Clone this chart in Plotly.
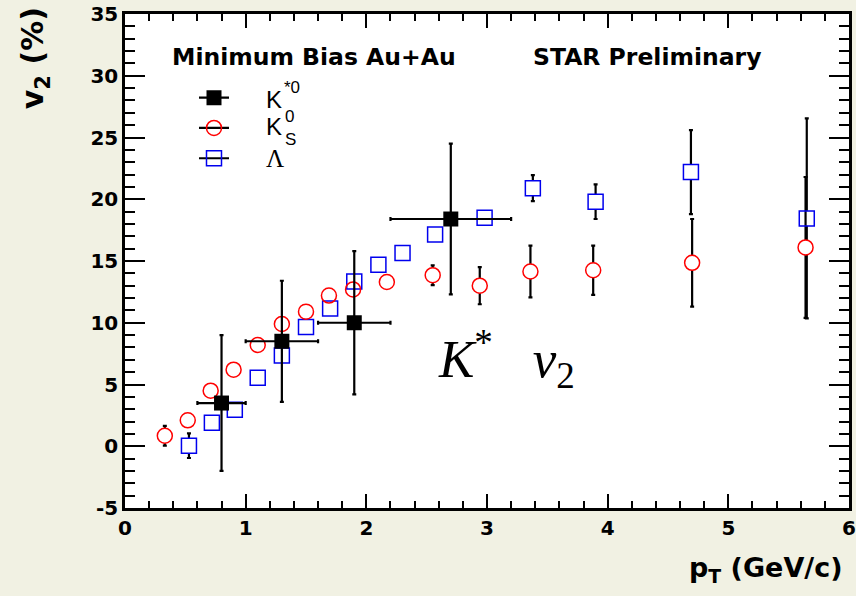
import plotly.graph_objects as go

# K*0 (filled squares), with pT bin half-widths
kstar_pt = [0.8, 1.3, 1.9, 2.7]
kstar_v2 = [3.5, 8.5, 10.0, 18.4]
kstar_pt_err = [0.2, 0.3, 0.3, 0.5]
kstar_v2_err = [5.5, 4.9, 5.8, 6.1]

# K0S (open circles)
k0s_pt = [0.33, 0.52, 0.71, 0.90, 1.10, 1.30, 1.50, 1.69, 1.89, 2.17, 2.55, 2.94, 3.36, 3.88, 4.70, 5.64]
k0s_v2 = [0.85, 2.1, 4.5, 6.2, 8.2, 9.9, 10.9, 12.2, 12.7, 13.3, 13.85, 13.0, 14.15, 14.25, 14.85, 16.1]
k0s_v2_err = [0.8, 0.3, 0.3, 0.3, 0.3, 0.3, 0.3, 0.3, 0.3, 0.4, 0.8, 1.5, 2.1, 2.0, 3.55, 5.7]

# Lambda (open squares)
lam_pt = [0.53, 0.72, 0.91, 1.10, 1.30, 1.50, 1.70, 1.90, 2.10, 2.30, 2.57, 2.98, 3.38, 3.90, 4.69, 5.65]
lam_v2 = [0.05, 1.9, 2.95, 5.55, 7.35, 9.65, 11.15, 13.35, 14.7, 15.65, 17.15, 18.5, 20.9, 19.8, 22.2, 18.45]
lam_v2_err = [1.0, 0.3, 0.3, 0.3, 0.3, 0.3, 0.3, 0.3, 0.3, 0.3, 0.4, 0.4, 1.05, 1.4, 3.4, 8.1]

y_ticks = [-5, 0, 5, 10, 15, 20, 25, 30, 35]
y_tick_text = ["-5", "0", "5", "10", "15", "20", "25", "30", "35"]
x_ticks = [0, 1, 2, 3, 4, 5, 6]

BG = "#f1f1e3"
RED = "#ff0000"
BLUE = "#0000ee"
BOLD = "DejaVu Sans"
LW = 2.2

fig = go.Figure()

# white-filled bodies carry the error bars, so bars stop at the marker edge
fig.add_trace(go.Scatter(
    x=lam_pt, y=lam_v2, mode="markers", showlegend=False, hoverinfo="skip",
    marker=dict(symbol="square", size=15, color="white", line=dict(width=0)),
    error_y=dict(type="data", array=lam_v2_err, color="black", thickness=LW, width=2)))
fig.add_trace(go.Scatter(
    x=k0s_pt, y=k0s_v2, mode="markers", showlegend=False, hoverinfo="skip",
    marker=dict(symbol="circle", size=15, color="white", line=dict(width=0)),
    error_y=dict(type="data", array=k0s_v2_err, color="black", thickness=LW, width=2)))

# outlines on top
fig.add_trace(go.Scatter(
    x=lam_pt, y=lam_v2, mode="markers", showlegend=False,
    marker=dict(symbol="square-open", size=15, color=BLUE, line=dict(width=1.5, color=BLUE))))
fig.add_trace(go.Scatter(
    x=k0s_pt, y=k0s_v2, mode="markers", showlegend=False,
    marker=dict(symbol="circle-open", size=15, color=RED, line=dict(width=1.5, color=RED))))

# K*0
fig.add_trace(go.Scatter(
    x=kstar_pt, y=kstar_v2, mode="markers", showlegend=False,
    marker=dict(symbol="square", size=15, color="black"),
    error_y=dict(type="data", array=kstar_v2_err, color="black", thickness=LW, width=2),
    error_x=dict(type="data", array=kstar_pt_err, color="black", thickness=LW, width=2)))

# legend symbols (labels are set as separate text so they can be large
# while the rows stay tightly packed)
legend_markers = [
    dict(symbol="square", size=15, color="black"),
    dict(symbol="circle-open", size=15, color=RED, line=dict(width=1.5, color=RED)),
    dict(symbol="square-open", size=15, color=BLUE, line=dict(width=1.5, color=BLUE)),
]
for mk in legend_markers:
    fig.add_trace(go.Scatter(
        x=[None], y=[None], mode="lines+markers", name="",
        line=dict(color="black", width=LW), marker=mk))

axis_common = dict(
    showline=True, linecolor="black", linewidth=2.5, mirror="ticks",
    ticks="inside", tickcolor="black", tickwidth=2, automargin=False,
    showgrid=False, zeroline=False,
    tickfont=dict(family=BOLD, size=20, color="black", weight="bold"),
)

fig.update_xaxes(range=[0, 6], tickvals=x_ticks, ticklen=14,
                 minor=dict(dtick=0.2, ticks="inside", ticklen=7, tickwidth=2, tickcolor="black"),
                 **axis_common)
fig.update_yaxes(range=[-5, 35], tickvals=y_ticks, ticktext=y_tick_text, ticklen=20,
                 minor=dict(dtick=1, ticks="inside", ticklen=10, tickwidth=2, tickcolor="black"),
                 **axis_common)

LEG_FONT = dict(family="Liberation Sans", size=24, color="black")
IDX_FONT = dict(family="Liberation Sans", size=17, color="black")


def label(text, x, y, font):
    return dict(text=text, x=x, y=y, xref="paper", yref="paper", showarrow=False,
                xanchor="left", yanchor="middle", borderpad=0, font=font)


annotations = [
    dict(text="Minimum Bias Au+Au", x=1.566, y=31.54, xref="x", yref="y",
         showarrow=False, font=dict(family=BOLD, size=23.5, color="black", weight="bold")),
    dict(text="STAR Preliminary", x=4.33, y=31.54, xref="x", yref="y",
         showarrow=False, font=dict(family=BOLD, size=23.5, color="black", weight="bold")),
    dict(text="<i>K</i><sup>*</sup>   <i>v</i><sub>2</sub>", x=3.16, y=7.1, xref="x", yref="y",
         showarrow=False, font=dict(family="Liberation Serif", size=53, color="black")),
    dict(text="v<sub>2</sub> (%)", x=-0.124, y=0.911, xref="paper", yref="paper",
         textangle=-90, showarrow=False, xanchor="center", yanchor="middle",
         font=dict(family=BOLD, size=30, color="black", weight="bold")),
    dict(text="p<sub>T</sub> (GeV/c)", x=0.9945, y=-0.1255, xref="paper", yref="paper",
         showarrow=False, xanchor="right", yanchor="middle",
         font=dict(family=BOLD, size=27, color="black", weight="bold")),
    # legend labels: K*0, K0S (index stacked), Lambda
    label("K", 0.1934, 0.8279, LEG_FONT),
    label("*0", 0.2182, 0.8522, IDX_FONT),
    label("K", 0.1934, 0.7713, LEG_FONT),
    label("0", 0.2196, 0.7915, IDX_FONT),
    label("S", 0.2196, 0.7450, IDX_FONT),
    label("Λ", 0.1934, 0.7085, dict(family="Liberation Serif", size=25, color="black")),
]

fig.update_layout(
    width=856, height=596,
    margin=dict(l=125, r=7, t=14, b=88),
    paper_bgcolor=BG, plot_bgcolor="white",
    annotations=annotations,
    showlegend=True,
    legend=dict(x=0.0953, y=0.8715, xanchor="left", yanchor="top",
                bgcolor="rgba(0,0,0,0)", borderwidth=0,
                font=dict(family="Liberation Sans", size=21, color="black")),
)

fig.write_html("out.html")
